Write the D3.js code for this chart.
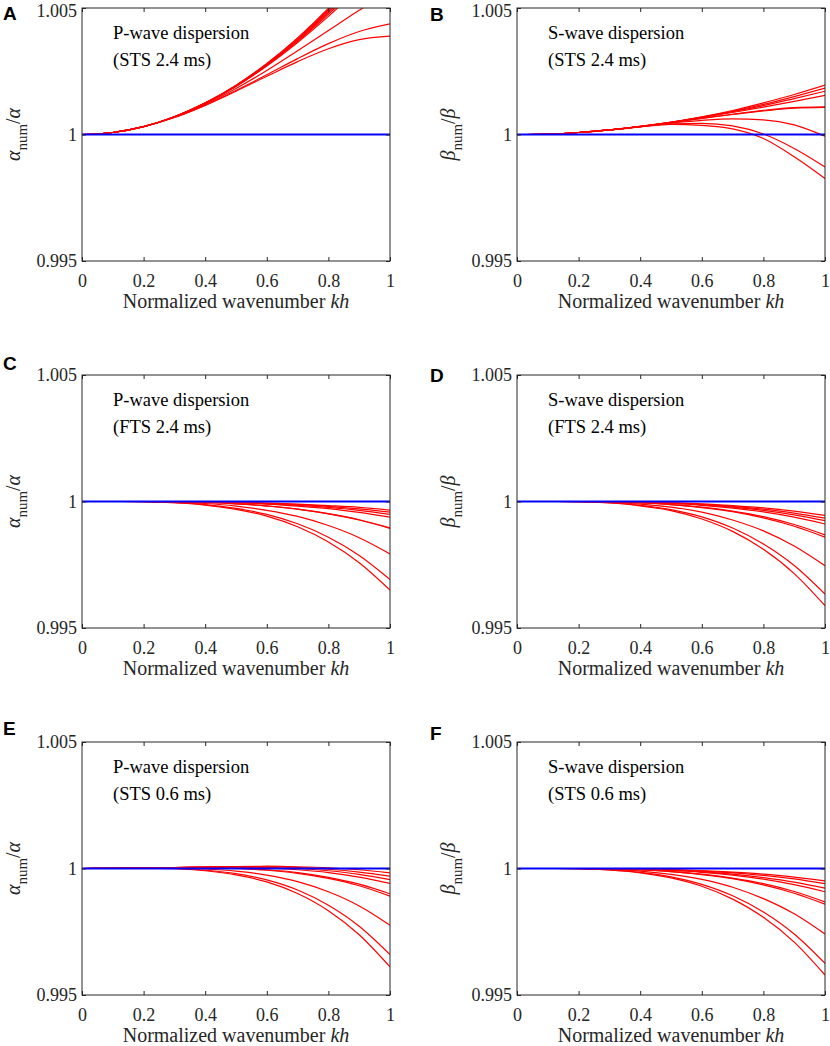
<!DOCTYPE html>
<html>
<head>
<meta charset="utf-8">
<script src="https://cdn.jsdelivr.net/npm/d3@7"></script>
<style>
  body { margin: 0; background: #ffffff; }
</style>
</head>
<body>
<div id="fig"></div>
<script>
// normalized wavenumber samples (x of every curve)
const kh = [0, 0.1, 0.2, 0.3, 0.4, 0.5, 0.6, 0.7, 0.8, 0.9, 1];

// exact ratio (blue reference line)
const exactRatio = [1, 1, 1, 1, 1, 1, 1, 1, 1, 1, 1];

// A: P-wave, STS 2.4 ms
const curvesA = [
  [1, 1.00008, 1.00031, 1.0007, 1.00125, 1.00195, 1.00281, 1.00382, 1.00499, 1.00632, 1.0078],
  [1, 1.00008, 1.00031, 1.0007, 1.00124, 1.00194, 1.00279, 1.00379, 1.00493, 1.00622, 1.00765],
  [1, 1.00008, 1.00031, 1.0007, 1.00124, 1.00193, 1.00277, 1.00375, 1.00487, 1.00612, 1.0075],
  [1, 1.00008, 1.00031, 1.0007, 1.00124, 1.00192, 1.00275, 1.00371, 1.00481, 1.00602, 1.00735],
  [1, 1.00008, 1.00031, 1.0007, 1.00123, 1.00191, 1.00273, 1.00368, 1.00475, 1.00592, 1.0072],
  [1, 1.00008, 1.00031, 1.0007, 1.00123, 1.0019, 1.00271, 1.00364, 1.00467, 1.00581, 1.00702],
  [1, 1.00008, 1.00031, 1.00069, 1.00119, 1.00182, 1.00253, 1.00331, 1.00411, 1.00491, 1.00565],
  [1, 1.00008, 1.00031, 1.00067, 1.00116, 1.00174, 1.00236, 1.003, 1.00359, 1.00407, 1.00437],
  [1, 1.00008, 1.00031, 1.00067, 1.00115, 1.00171, 1.0023, 1.00288, 1.00339, 1.00375, 1.00389]
];

// B: S-wave, STS 2.4 ms
const curvesB = [
  [1, 1.00002, 1.00008, 1.00018, 1.00031, 1.00049, 1.0007, 1.00095, 1.00125, 1.00158, 1.00195],
  [1, 1.00002, 1.00008, 1.00018, 1.00031, 1.00048, 1.00069, 1.00092, 1.00119, 1.0015, 1.00183],
  [1, 1.00002, 1.00008, 1.00018, 1.00031, 1.00048, 1.00068, 1.0009, 1.00114, 1.00142, 1.00171],
  [1, 1.00002, 1.00008, 1.00018, 1.00031, 1.00048, 1.00067, 1.00087, 1.00108, 1.00131, 1.00155],
  [1, 1.00002, 1.00008, 1.00018, 1.00032, 1.00048, 1.00064, 1.0008, 1.00095, 1.00106, 1.00109],
  [1, 1.00002, 1.00008, 1.00018, 1.00032, 1.00048, 1.00064, 1.00079, 1.00093, 1.00104, 1.00107],
  [1, 1.00002, 1.00008, 1.00018, 1.00032, 1.00045, 1.00056, 1.00062, 1.00058, 1.00038, 0.99993],
  [1, 1.00002, 1.00008, 1.00018, 1.00031, 1.00042, 1.00044, 1.00034, 1.00002, 0.99945, 0.99872],
  [1, 1.00002, 1.00008, 1.00018, 1.0003, 1.0004, 1.00036, 1.00022, 0.99984, 0.99912, 0.99826]
];

// C: P-wave, FTS 2.4 ms
const curvesC = [
  [1, 1, 1, 0.99999, 0.99999, 0.99997, 0.99994, 0.9999, 0.99984, 0.99977, 0.99966],
  [1, 1, 1, 0.99999, 0.99998, 0.99996, 0.99993, 0.99988, 0.99981, 0.99971, 0.99958],
  [1, 1, 1, 0.99999, 0.99998, 0.99995, 0.99991, 0.99985, 0.99977, 0.99965, 0.99949],
  [1, 1, 1, 0.99999, 0.99997, 0.99995, 0.9999, 0.99982, 0.99972, 0.99957, 0.99938],
  [1, 1, 1, 0.99998, 0.99996, 0.99991, 0.99983, 0.9997, 0.99952, 0.99928, 0.99896],
  [1, 1, 1, 0.99998, 0.99996, 0.99991, 0.99982, 0.9997, 0.99951, 0.99927, 0.99894],
  [1, 1, 0.99999, 0.99997, 0.99992, 0.99982, 0.99965, 0.99941, 0.99905, 0.99857, 0.99793],
  [1, 1, 0.99999, 0.99995, 0.99988, 0.99973, 0.99949, 0.99912, 0.99859, 0.99787, 0.99692],
  [1, 1, 0.99999, 0.99995, 0.99986, 0.99969, 0.99942, 0.999, 0.9984, 0.99758, 0.9965]
];

// D: S-wave, FTS 2.4 ms
const curvesD = [
  [1, 1, 1, 0.99999, 0.99998, 0.99995, 0.99991, 0.99984, 0.99975, 0.99962, 0.99945],
  [1, 1, 1, 0.99999, 0.99997, 0.99994, 0.99989, 0.99981, 0.9997, 0.99954, 0.99934],
  [1, 1, 1, 0.99999, 0.99997, 0.99993, 0.99987, 0.99978, 0.99965, 0.99947, 0.99924],
  [1, 1, 1, 0.99999, 0.99996, 0.99992, 0.99985, 0.99974, 0.99959, 0.99938, 0.99911],
  [1, 1, 1, 0.99998, 0.99995, 0.99988, 0.99978, 0.99962, 0.9994, 0.99909, 0.99868],
  [1, 1, 0.99999, 0.99998, 0.99994, 0.99988, 0.99976, 0.9996, 0.99935, 0.99902, 0.99859],
  [1, 1, 0.99999, 0.99996, 0.9999, 0.99978, 0.99958, 0.99927, 0.99884, 0.99824, 0.99746],
  [1, 1, 0.99999, 0.99995, 0.99985, 0.99968, 0.99939, 0.99895, 0.99832, 0.99747, 0.99634],
  [1, 1, 0.99999, 0.99994, 0.99983, 0.99964, 0.99931, 0.99882, 0.99811, 0.99715, 0.99588]
];

// E: P-wave, STS 0.6 ms
const curvesE = [
  [1, 1.00001, 1.00002, 1.00004, 1.00007, 1.00008, 1.00009, 1.00007, 1.00003, 0.99995, 0.99983],
  [1, 1.00001, 1.00002, 1.00004, 1.00006, 1.00007, 1.00007, 1.00004, 0.99997, 0.99986, 0.9997],
  [1, 1.00001, 1.00002, 1.00004, 1.00005, 1.00006, 1.00004, 1, 0.99991, 0.99977, 0.99956],
  [1, 1.00001, 1.00002, 1.00004, 1.00005, 1.00005, 1.00002, 0.99995, 0.99984, 0.99966, 0.99941],
  [1, 1.00001, 1.00002, 1.00003, 1.00003, 1.00001, 0.99995, 0.99984, 0.99965, 0.99938, 0.999],
  [1, 1.00001, 1.00002, 1.00003, 1.00003, 1, 0.99993, 0.99981, 0.99961, 0.99932, 0.99891],
  [1, 1.00001, 1.00001, 1.00001, 0.99998, 0.9999, 0.99974, 0.99948, 0.99908, 0.99852, 0.99776],
  [1, 1.00001, 1.00001, 1, 0.99993, 0.9998, 0.99955, 0.99915, 0.99855, 0.99772, 0.9966],
  [1, 1.00001, 1.00001, 0.99999, 0.99991, 0.99975, 0.99947, 0.99901, 0.99833, 0.99738, 0.99611]
];

// F: S-wave, STS 0.6 ms
const curvesF = [
  [1, 1, 1, 0.99999, 0.99998, 0.99996, 0.99992, 0.99986, 0.99978, 0.99966, 0.99951],
  [1, 1, 1, 0.99999, 0.99998, 0.99995, 0.9999, 0.99983, 0.99973, 0.99959, 0.9994],
  [1, 1, 1, 0.99999, 0.99997, 0.99993, 0.99987, 0.99978, 0.99964, 0.99946, 0.99922],
  [1, 1, 1, 0.99999, 0.99996, 0.99992, 0.99985, 0.99974, 0.99958, 0.99936, 0.99908],
  [1, 1, 1, 0.99998, 0.99995, 0.99988, 0.99978, 0.99962, 0.9994, 0.99909, 0.99868],
  [1, 1, 0.99999, 0.99998, 0.99994, 0.99988, 0.99976, 0.9996, 0.99935, 0.99902, 0.99859],
  [1, 1, 0.99999, 0.99996, 0.9999, 0.99977, 0.99957, 0.99926, 0.99881, 0.99821, 0.99741],
  [1, 1, 0.99999, 0.99994, 0.99985, 0.99967, 0.99937, 0.99892, 0.99828, 0.99741, 0.99625],
  [1, 1, 0.99999, 0.99994, 0.99983, 0.99963, 0.9993, 0.99879, 0.99807, 0.99709, 0.99579]
];

// ticks
const xTicks = [0, 0.2, 0.4, 0.6, 0.8, 1];
const yTicks = [0.995, 1, 1.005];

// panel texts
const panelLetters = ["A", "B", "C", "D", "E", "F"];
const waveNames = ["P-wave dispersion", "S-wave dispersion"];
const schemes = ["(STS 2.4 ms)", "(FTS 2.4 ms)", "(STS 0.6 ms)"];
const speedSymbols = ["\u03B1", "\u03B2"];
const allCurves = [curvesA, curvesB, curvesC, curvesD, curvesE, curvesF];

// layout
const width = 830;
const height = 1046;
const colX = [82, 517];
const rowY = [8, 375, 742];
const letterY = [[20, 21], [370, 382], [735, 740]];
const letterX = [3, 430];
const plotW = 308;
const plotH = 253;
const serif = "'Liberation Serif', 'Times New Roman', serif";
const axisColor = "#262626";

const svg = d3.select("#fig")
  .append("svg")
  .attr("width", width)
  .attr("height", height)
  .style("background", "#ffffff");

const x = d3.scaleLinear().domain([0, 1]).range([0, plotW]);
const y = d3.scaleLinear().domain([0.995, 1.005]).range([plotH, 0]);

const line = d3.line()
  .x((d, j) => x(kh[j]))
  .y(d => y(d))
  .curve(d3.curveMonotoneX);

function styleAxis(g) {
  g.attr("font-family", serif).attr("font-size", 18);
  g.select(".domain").remove();
  g.selectAll("line").attr("stroke", axisColor);
  g.selectAll("text").attr("fill", axisColor);
}

allCurves.forEach((curves, i) => {
  const col = i % 2;
  const row = Math.floor(i / 2);
  const g = svg.append("g")
    .attr("transform", `translate(${colX[col]},${rowY[row]})`);

  // clip for the curves
  g.append("clipPath")
    .attr("id", "clip" + i)
    .append("rect")
    .attr("width", plotW)
    .attr("height", plotH);

  const plot = g.append("g").attr("clip-path", `url(#clip${i})`);

  plot.selectAll("path.num")
    .data(curves)
    .join("path")
    .attr("class", "num")
    .attr("d", line)
    .attr("fill", "none")
    .attr("stroke", "#ff0000")
    .attr("stroke-width", 1.2);

  plot.append("path")
    .datum(exactRatio)
    .attr("d", line)
    .attr("fill", "none")
    .attr("stroke", "#0000ff")
    .attr("stroke-width", 2);

  // bottom axis with labels, ticks inside
  g.append("g")
    .attr("transform", `translate(0,${plotH})`)
    .call(d3.axisBottom(x).tickValues(xTicks).tickFormat(d => String(d))
      .tickSize(-4).tickPadding(13))
    .call(styleAxis);

  // top axis ticks only
  g.append("g")
    .call(d3.axisTop(x).tickValues(xTicks).tickFormat("").tickSize(-4))
    .call(styleAxis);

  // left axis
  const yAxis = g.append("g")
    .call(d3.axisLeft(y).tickValues(yTicks).tickFormat(d => String(d))
      .tickSize(-4).tickPadding(5))
    .call(styleAxis);
  // keep the top label of the first row inside the page
  if (row === 0) {
    yAxis.selectAll(".tick text").filter(d => d === 1.005).attr("dy", "0.45em");
  }

  // right axis ticks only
  g.append("g")
    .attr("transform", `translate(${plotW},0)`)
    .call(d3.axisRight(y).tickValues(yTicks).tickFormat("").tickSize(-4))
    .call(styleAxis);

  // box
  g.append("rect")
    .attr("width", plotW)
    .attr("height", plotH)
    .attr("fill", "none")
    .attr("stroke", axisColor)
    .attr("stroke-width", 1);

  // annotation
  const note = g.append("text")
    .attr("font-family", serif)
    .attr("font-size", 18.5)
    .attr("fill", "#000");
  note.append("tspan").attr("x", 31).attr("y", 31).text(waveNames[col]);
  note.append("tspan").attr("x", 31).attr("y", 58).text(schemes[row]);

  // x label
  const xl = g.append("text")
    .attr("x", plotW / 2)
    .attr("y", plotH + 47)
    .attr("text-anchor", "middle")
    .attr("font-family", serif)
    .attr("font-size", 20)
    .attr("fill", axisColor);
  xl.append("tspan").text("Normalized wavenumber ");
  xl.append("tspan").attr("font-style", "italic").text("kh");

  // y label
  const yl = g.append("text")
    .attr("transform", `translate(-62,${plotH / 2}) rotate(-90)`)
    .attr("text-anchor", "middle")
    .attr("font-family", serif)
    .attr("font-size", 20)
    .attr("fill", axisColor);
  yl.append("tspan").attr("font-style", "italic").text(speedSymbols[col]);
  yl.append("tspan").attr("font-size", 15).attr("dy", 7).text("num");
  yl.append("tspan").attr("dy", -7).text("/");
  yl.append("tspan").attr("font-style", "italic").text(speedSymbols[col]);

  // panel letter
  svg.append("text")
    .attr("x", letterX[col])
    .attr("y", letterY[row][col])
    .attr("font-family", "'Liberation Sans', Arial, sans-serif")
    .attr("font-weight", "bold")
    .attr("font-size", 19)
    .attr("fill", "#000")
    .text(panelLetters[i]);
});
</script>
</body>
</html>
